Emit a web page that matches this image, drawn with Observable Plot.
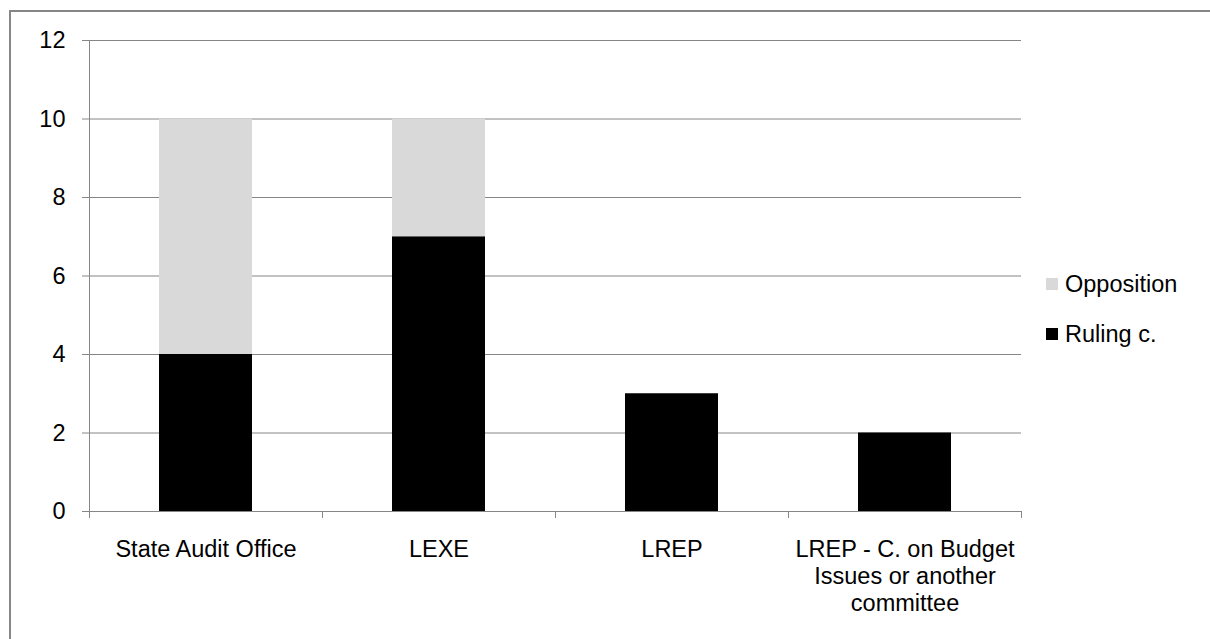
<!DOCTYPE html>
<html>
<head>
<meta charset="utf-8">
<script src="https://cdn.jsdelivr.net/npm/d3@7"></script>
<script src="https://cdn.jsdelivr.net/npm/@observablehq/plot@0.6"></script>
<style>
  html, body { margin: 0; padding: 0; background: #fff; overflow: hidden; width: 1210px; height: 639px; }
  #wrap { position: relative; width: 1210px; height: 639px; font-family: "Liberation Sans", Arial, sans-serif; }
  #border { position: absolute; left: 9px; top: 10px; width: 1400px; height: 800px;
            border-left: 2px solid #868686; border-top: 2px solid #868686; box-sizing: border-box; }
  #chart { position: absolute; left: 0; top: 0; }
  .leg { position: absolute; left: 1046px; height: 26px; display: flex; align-items: center;
         font-size: 23.5px; color: #000; white-space: nowrap; }
  .sw { width: 12px; height: 12px; margin-right: 7px; }
</style>
</head>
<body>
<div id="wrap">
  <div id="border"></div>
  <div id="chart"></div>
  <div id="legend"></div>
</div>
<script>
// ---- data ----
const categories = ["State Audit Office", "LEXE", "LREP", "LREP - C. on Budget Issues or another committee"];
const categoryLabels = ["State Audit Office", "LEXE", "LREP", "LREP - C. on Budget\nIssues or another\ncommittee"];
const series = ["Ruling c.", "Opposition"];
const rulingValues = [4, 7, 3, 2];
const oppositionValues = [6, 3, 0, 0];
const yTicks = [0, 2, 4, 6, 8, 10, 12];
const seriesColors = ["#000000", "#d9d9d9"];

// ---- table ----
const table = [];
categories.forEach((c, i) => {
  table.push({category: c, series: series[0], value: rulingValues[i]});
  table.push({category: c, series: series[1], value: oppositionValues[i]});
});

const W = 1210, H = 639, mL = 89, mR = 189, mT = 40, mB = 128;
const step = (W - mL - mR) / categories.length;
const labelOf = new Map(categories.map((c, i) => [c, categoryLabels[i]]));
const gray = "#868686";

const chart = Plot.plot({
  width: W,
  height: H,
  marginLeft: mL,
  marginRight: mR,
  marginTop: mT,
  marginBottom: mB,
  style: {fontFamily: "'Liberation Sans', Arial, sans-serif", fontSize: "23.5px", background: "transparent", color: "#000"},
  x: {type: "band", domain: categories, paddingInner: 0.6, paddingOuter: 0.3, axis: null},
  y: {domain: [0, 12], axis: null},
  color: {domain: series, range: seriesColors},
  marks: [
    Plot.gridY(yTicks, {stroke: gray, strokeOpacity: 1, strokeWidth: 1}),
    Plot.barY(table, {x: "category", y: "value", fill: "series", order: series}),
    Plot.frame({anchor: "left", stroke: gray, strokeWidth: 1}),
    Plot.axisY(yTicks, {tickSize: 7, tickPadding: 17, fontSize: 23.5, stroke: gray, color: "#000", tickFormat: d => String(d), label: null}),
    Plot.ruleX(categories, {x: d => d, y1: 0, y2: 0, insetBottom: -7, dx: -step / 2, stroke: gray}),
    Plot.ruleX(categories.slice(-1), {x: d => d, y1: 0, y2: 0, insetBottom: -7, dx: step / 2, stroke: gray}),
    Plot.axisX({tickSize: 0, tickPadding: 26, fontSize: 23.5, lineHeight: 1.15, lineAnchor: "top", tickFormat: d => labelOf.get(d), label: null})
  ]
});
chart.style.display = "block";
document.getElementById("chart").appendChild(chart);

// ---- legend (HTML) ----
const legendOrder = [series[1], series[0]];
const legendTops = [271, 321];
const legend = document.getElementById("legend");
legendOrder.forEach((s, i) => {
  const item = document.createElement("div");
  item.className = "leg";
  item.style.top = legendTops[i] + "px";
  const sw = document.createElement("span");
  sw.className = "sw";
  sw.style.background = seriesColors[series.indexOf(s)];
  item.appendChild(sw);
  item.appendChild(document.createTextNode(s));
  legend.appendChild(item);
});
</script>
</body>
</html>
